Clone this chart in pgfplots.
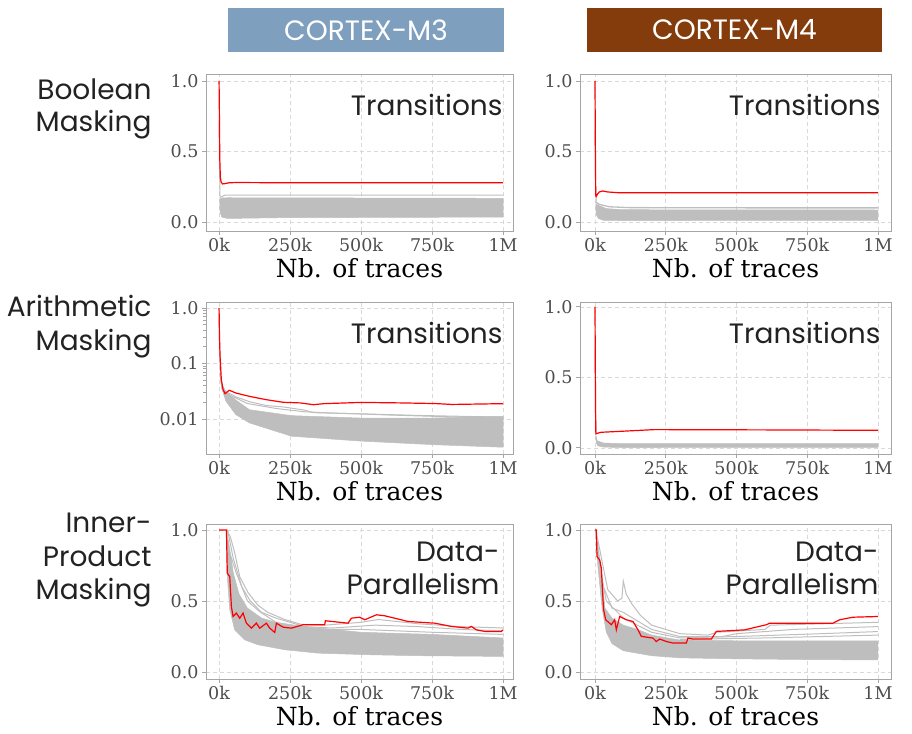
\documentclass[border=0pt]{standalone}
\usepackage{fontspec}
\usepackage{pgfplots}
\pgfplotsset{compat=1.18}
\setmainfont{Poppins}
\newfontfamily\dvs{DejaVu Serif}
\definecolor{mthree}{HTML}{7F9FBF}
\definecolor{mfour}{HTML}{843C0C}
\definecolor{bandgray}{HTML}{BEBEBE}
\definecolor{ticktext}{HTML}{4D4D4D}
\definecolor{gridc}{HTML}{D9D9D9}
\definecolor{framec}{HTML}{A6A6A6}
\definecolor{redl}{HTML}{FF0000}
\definecolor{txt}{HTML}{222222}

\pgfplotsset{
  panel/.style={
    scale only axis,
    no markers,
    xtick={0,250000,500000,750000,1000000},
    xticklabels={0k,250k,500k,750k,1M},
    scaled x ticks=false,
    scaled y ticks=false,
    grid=major,
    major grid style={gridc, line width=0.7pt, dash pattern=on 4pt off 3pt},
    axis line style={framec, line width=0.9pt},
    tick style={framec, line width=0.9pt},
    tick align=outside,
    major tick length=4pt,
    tick pos=left,
    minor tick num=0,
    ticklabel style={font=\dvs\fontsize{17.5}{19}\selectfont, text=ticktext},
    xlabel={Nb. of traces},
    every axis x label/.style={at={(axis description cs:0.5,0)}, anchor=base, yshift=-46pt, font=\dvs\fontsize{25}{27}\selectfont, text=black},
  },
  linpanel/.style={panel, ytick={0,0.5,1}, yticklabels={0.0,0.5,1.0}},
  colA/.style={xmin=-46000, xmax=1035000, width=307pt},
  colB/.style={xmin=-53000, xmax=1046000, width=311pt},
  redline/.style={redl, line width=1.2pt},
  grayline/.style={bandgray, line width=1.0pt},
  band/.style={fill=bandgray, draw=bandgray, line width=0.5pt},
}
\newcommand\plabel[1]{\node[anchor=base east, font=\fontsize{28}{30}\selectfont, text=txt] at (rel axis cs:1,1) [xshift=-7pt, yshift=-41pt] {#1};}

\begin{document}
\begin{tikzpicture}
% headers
\fill[mthree] (228pt,-8pt) rectangle (504pt,-52pt);
\node[text=white, font=\fontsize{28}{30}\selectfont] at (366pt,-30pt) {CORTEX-M3};
\fill[mfour] (587pt,-8pt) rectangle (882pt,-52pt);
\node[text=white, font=\fontsize{28}{30}\selectfont] at (734.5pt,-30pt) {CORTEX-M4};
% row labels
\begin{scope}[every node/.style={anchor=base east, font=\fontsize{28}{30}\selectfont, text=txt}]
\node at (155pt,-99.5pt) {Boolean};
\node at (155pt,-131.5pt) {Masking};
\node at (155pt,-316pt) {Arithmetic};
\node at (155pt,-350pt) {Masking};
\node at (155pt,-532pt) {Inner-};
\node at (155pt,-566pt) {Product};
\node at (155pt,-599pt) {Masking};
\end{scope}

% Row 1, col 1
\begin{axis}[linpanel, colA, at={(206pt,-231pt)}, anchor=south west, height=157pt, ymin=-0.064, ymax=1.05]
\addplot[grayline] coordinates {(0,0.72)(1500,0.45)(3000,0.2)(5000,0.12)};
\addplot[band] coordinates {(3000,0.16)(10000,0.17)(30000,0.172)(1000000,0.168)(1000000,0.035)(200000,0.03)(30000,0.025)(10000,0.035)(5000,0.06)(3000,0.09)} -- cycle;
\addplot[grayline] coordinates {(6000,0.175)(20000,0.19)(60000,0.19)(1000000,0.19)};
\addplot[redline] coordinates {(0,1.0)(1000,0.8)(2500,0.45)(4500,0.32)(7000,0.285)(12000,0.27)(20000,0.272)(35000,0.278)(60000,0.28)(150000,0.279)(1000000,0.279)};
\plabel{Transitions}
\end{axis}

% Row 1, col 2
\begin{axis}[linpanel, colB, at={(580pt,-231pt)}, anchor=south west, height=157pt, ymin=-0.064, ymax=1.05]
\addplot[grayline] coordinates {(0,0.65)(2000,0.3)(4000,0.14)};
\addplot[band] coordinates {(3000,0.13)(10000,0.12)(40000,0.095)(100000,0.087)(1000000,0.085)(1000000,0.012)(100000,0.01)(30000,0.012)(12000,0.025)(5000,0.05)(3000,0.09)} -- cycle;
\addplot[grayline, line width=1.3pt] coordinates {(4000,0.14)(15000,0.125)(50000,0.108)(120000,0.102)(600000,0.1)(1000000,0.1)};
\addplot[redline] coordinates {(0,1.0)(1000,0.6)(2500,0.19)(4000,0.18)(8000,0.195)(15000,0.213)(27000,0.22)(45000,0.213)(80000,0.208)(300000,0.207)(1000000,0.208)};
\plabel{Transitions}
\end{axis}

% Row 2, col 1 (log)
\begin{axis}[panel, colA, at={(206pt,-454pt)}, anchor=south west, height=152pt, ymode=log, ymin=0.00234, ymax=1.283, ytick={0.01,0.1,1}, yticklabels={0.01,0.1,1.0}, minor ytick={}]
\addplot[grayline] coordinates {(0,0.8)(2000,0.2)(5000,0.06)(10000,0.035)};
\addplot[band] coordinates {(6000,0.055)(12000,0.04)(24000,0.0315)(59000,0.022)(107000,0.0147)(255000,0.0115)(499000,0.0104)(754000,0.0104)(1000000,0.0112)(1000000,0.0031)(754000,0.00345)(499000,0.004)(255000,0.0049)(107000,0.0085)(59000,0.012)(24000,0.021)(10000,0.035)(6000,0.05)} -- cycle;
\addplot[grayline] coordinates {(20000,0.032)(60000,0.025)(107000,0.0205)(166000,0.0175)(226000,0.0165)(300000,0.0145)(333000,0.013)(500000,0.0124)(700000,0.0116)(1000000,0.0108)};
\addplot[grayline] coordinates {(30000,0.028)(100000,0.019)(200000,0.0155)(300000,0.0135)(400000,0.0128)(600000,0.0118)(800000,0.011)(1000000,0.0105)};
\addplot[redline] coordinates {(0,1.0)(1500,0.3)(3500,0.135)(8000,0.051)(14000,0.034)(21000,0.0286)(36000,0.033)(59000,0.0294)(107000,0.0256)(166000,0.0223)(226000,0.02)(285000,0.0195)(333000,0.0181)(368000,0.0189)(500000,0.0199)(640000,0.0195)(760000,0.019)(820000,0.0183)(1000000,0.0189)};
\plabel{Transitions}
\end{axis}

% Row 2, col 2
\begin{axis}[linpanel, colB, at={(580pt,-454pt)}, anchor=south west, height=152pt, ymin=-0.043, ymax=1.035]
\addplot[grayline] coordinates {(0,0.7)(2000,0.3)(4000,0.1)};
\addplot[band] coordinates {(3000,0.09)(8000,0.05)(30000,0.035)(100000,0.03)(1000000,0.03)(1000000,0.004)(100000,0.003)(30000,0.006)(10000,0.015)(4000,0.04)} -- cycle;
\addplot[redline] coordinates {(0,1.0)(1000,0.6)(2500,0.12)(3500,0.10)(10000,0.105)(21000,0.111)(92000,0.118)(209000,0.13)(600000,0.128)(1000000,0.125)};
\plabel{Transitions}
\end{axis}

% Row 3, col 1
\begin{axis}[linpanel, colA, at={(206pt,-679pt)}, anchor=south west, height=155pt, ymin=-0.049, ymax=1.042]
\addplot[band] coordinates {(26000,1.0)(35000,0.9)(50000,0.7)(70000,0.55)(100000,0.45)(150000,0.38)(200000,0.35)(300000,0.32)(500000,0.28)(750000,0.265)(1000000,0.24)(1000000,0.11)(701000,0.115)(525000,0.122)(349000,0.133)(231000,0.157)(137000,0.192)(90000,0.227)(55000,0.297)(37600,0.44)(28000,0.7)} -- cycle;
\addplot[grayline] coordinates {(26000,1.0)(40000,0.95)(55000,0.84)(73000,0.67)(102000,0.56)(137000,0.47)(172000,0.42)(231000,0.37)(290000,0.335)(372000,0.33)(500000,0.35)(560000,0.37)(700000,0.34)(850000,0.32)(1000000,0.31)};
\addplot[grayline] coordinates {(30000,1.0)(50000,0.8)(80000,0.6)(110000,0.5)(150000,0.42)(200000,0.38)(300000,0.32)(400000,0.31)(550000,0.33)(700000,0.32)(850000,0.30)(1000000,0.29)};
\addplot[grayline] coordinates {(28000,0.9)(60000,0.7)(100000,0.5)(140000,0.43)(200000,0.35)(300000,0.3)(500000,0.3)(750000,0.28)(1000000,0.265)};
\addplot[redline] coordinates {(0,1.0)(26000,1.0)(29000,0.696)(37600,0.672)(43400,0.461)(49300,0.391)(61000,0.415)(72800,0.379)(84500,0.415)(96200,0.344)(113800,0.309)(131500,0.344)(143200,0.309)(166700,0.344)(178400,0.309)(196000,0.279)(201900,0.344)(225400,0.316)(254700,0.309)(295800,0.333)(372000,0.333)(374400,0.361)(454200,0.344)(466000,0.379)(495300,0.386)(512900,0.368)(554000,0.403)(583300,0.396)(618500,0.379)(665500,0.356)(759400,0.344)(818100,0.321)(876800,0.309)(888500,0.321)(906100,0.297)(935400,0.286)(994100,0.286)(1000000,0.297)};
\node[anchor=base east, font=\fontsize{28}{30}\selectfont, text=txt] at (rel axis cs:1,1) [xshift=-10pt, yshift=-37pt] {Data-};
\node[anchor=base east, font=\fontsize{28}{30}\selectfont, text=txt] at (rel axis cs:1,1) [xshift=-10pt, yshift=-70pt] {Parallelism};
\end{axis}

% Row 3, col 2
\begin{axis}[linpanel, colB, at={(580pt,-679pt)}, anchor=south west, height=155pt, ymin=-0.049, ymax=1.042]
\addplot[band] coordinates {(3000,0.98)(10000,0.9)(20000,0.75)(35000,0.45)(60000,0.38)(100000,0.33)(150000,0.3)(200000,0.26)(300000,0.225)(500000,0.22)(750000,0.22)(1000000,0.22)(1000000,0.085)(750000,0.088)(500000,0.093)(300000,0.1)(200000,0.115)(100000,0.15)(60000,0.2)(40000,0.28)(25000,0.45)(10000,0.75)} -- cycle;
\addplot[grayline] coordinates {(0,1.0)(10000,0.93)(25000,0.78)(45000,0.58)(80000,0.5)(95000,0.52)(100000,0.64)(110000,0.55)(130000,0.48)(160000,0.4)(200000,0.33)(250000,0.3)(300000,0.27)(400000,0.26)(430000,0.28)(600000,0.3)(620000,0.33)(1000000,0.35)};
\addplot[grayline] coordinates {(5000,0.9)(30000,0.6)(60000,0.45)(100000,0.42)(150000,0.36)(200000,0.3)(300000,0.25)(450000,0.25)(500000,0.27)(700000,0.3)(1000000,0.32)};
\addplot[grayline] coordinates {(5000,0.85)(40000,0.5)(100000,0.38)(200000,0.28)(300000,0.24)(500000,0.25)(800000,0.27)(1000000,0.285)};
\addplot[grayline] coordinates {(300000,0.23)(600000,0.24)(1000000,0.26)};
\addplot[redline] coordinates {(0,1.0)(4700,1.0)(7100,0.813)(16500,0.789)(22400,0.731)(28300,0.508)(30600,0.438)(37700,0.368)(57700,0.333)(69500,0.368)(75400,0.297)(87200,0.391)(110700,0.368)(134300,0.356)(151900,0.297)(163700,0.251)(204900,0.239)(216700,0.215)(228500,0.232)(252100,0.215)(275600,0.204)(322700,0.204)(328600,0.239)(346300,0.232)(411100,0.232)(428700,0.286)(528900,0.297)(605400,0.333)(617200,0.344)(841000,0.344)(864500,0.368)(911700,0.386)(1000000,0.391)};
\node[anchor=base east, font=\fontsize{28}{30}\selectfont, text=txt] at (rel axis cs:1,1) [xshift=-9pt, yshift=-37pt] {Data-};
\node[anchor=base east, font=\fontsize{28}{30}\selectfont, text=txt] at (rel axis cs:1,1) [xshift=-9pt, yshift=-70pt] {Parallelism};
\end{axis}

\pgfresetboundingbox
\path[use as bounding box] (0pt,0pt) rectangle (912pt,-733pt);
\end{tikzpicture}
\end{document}
